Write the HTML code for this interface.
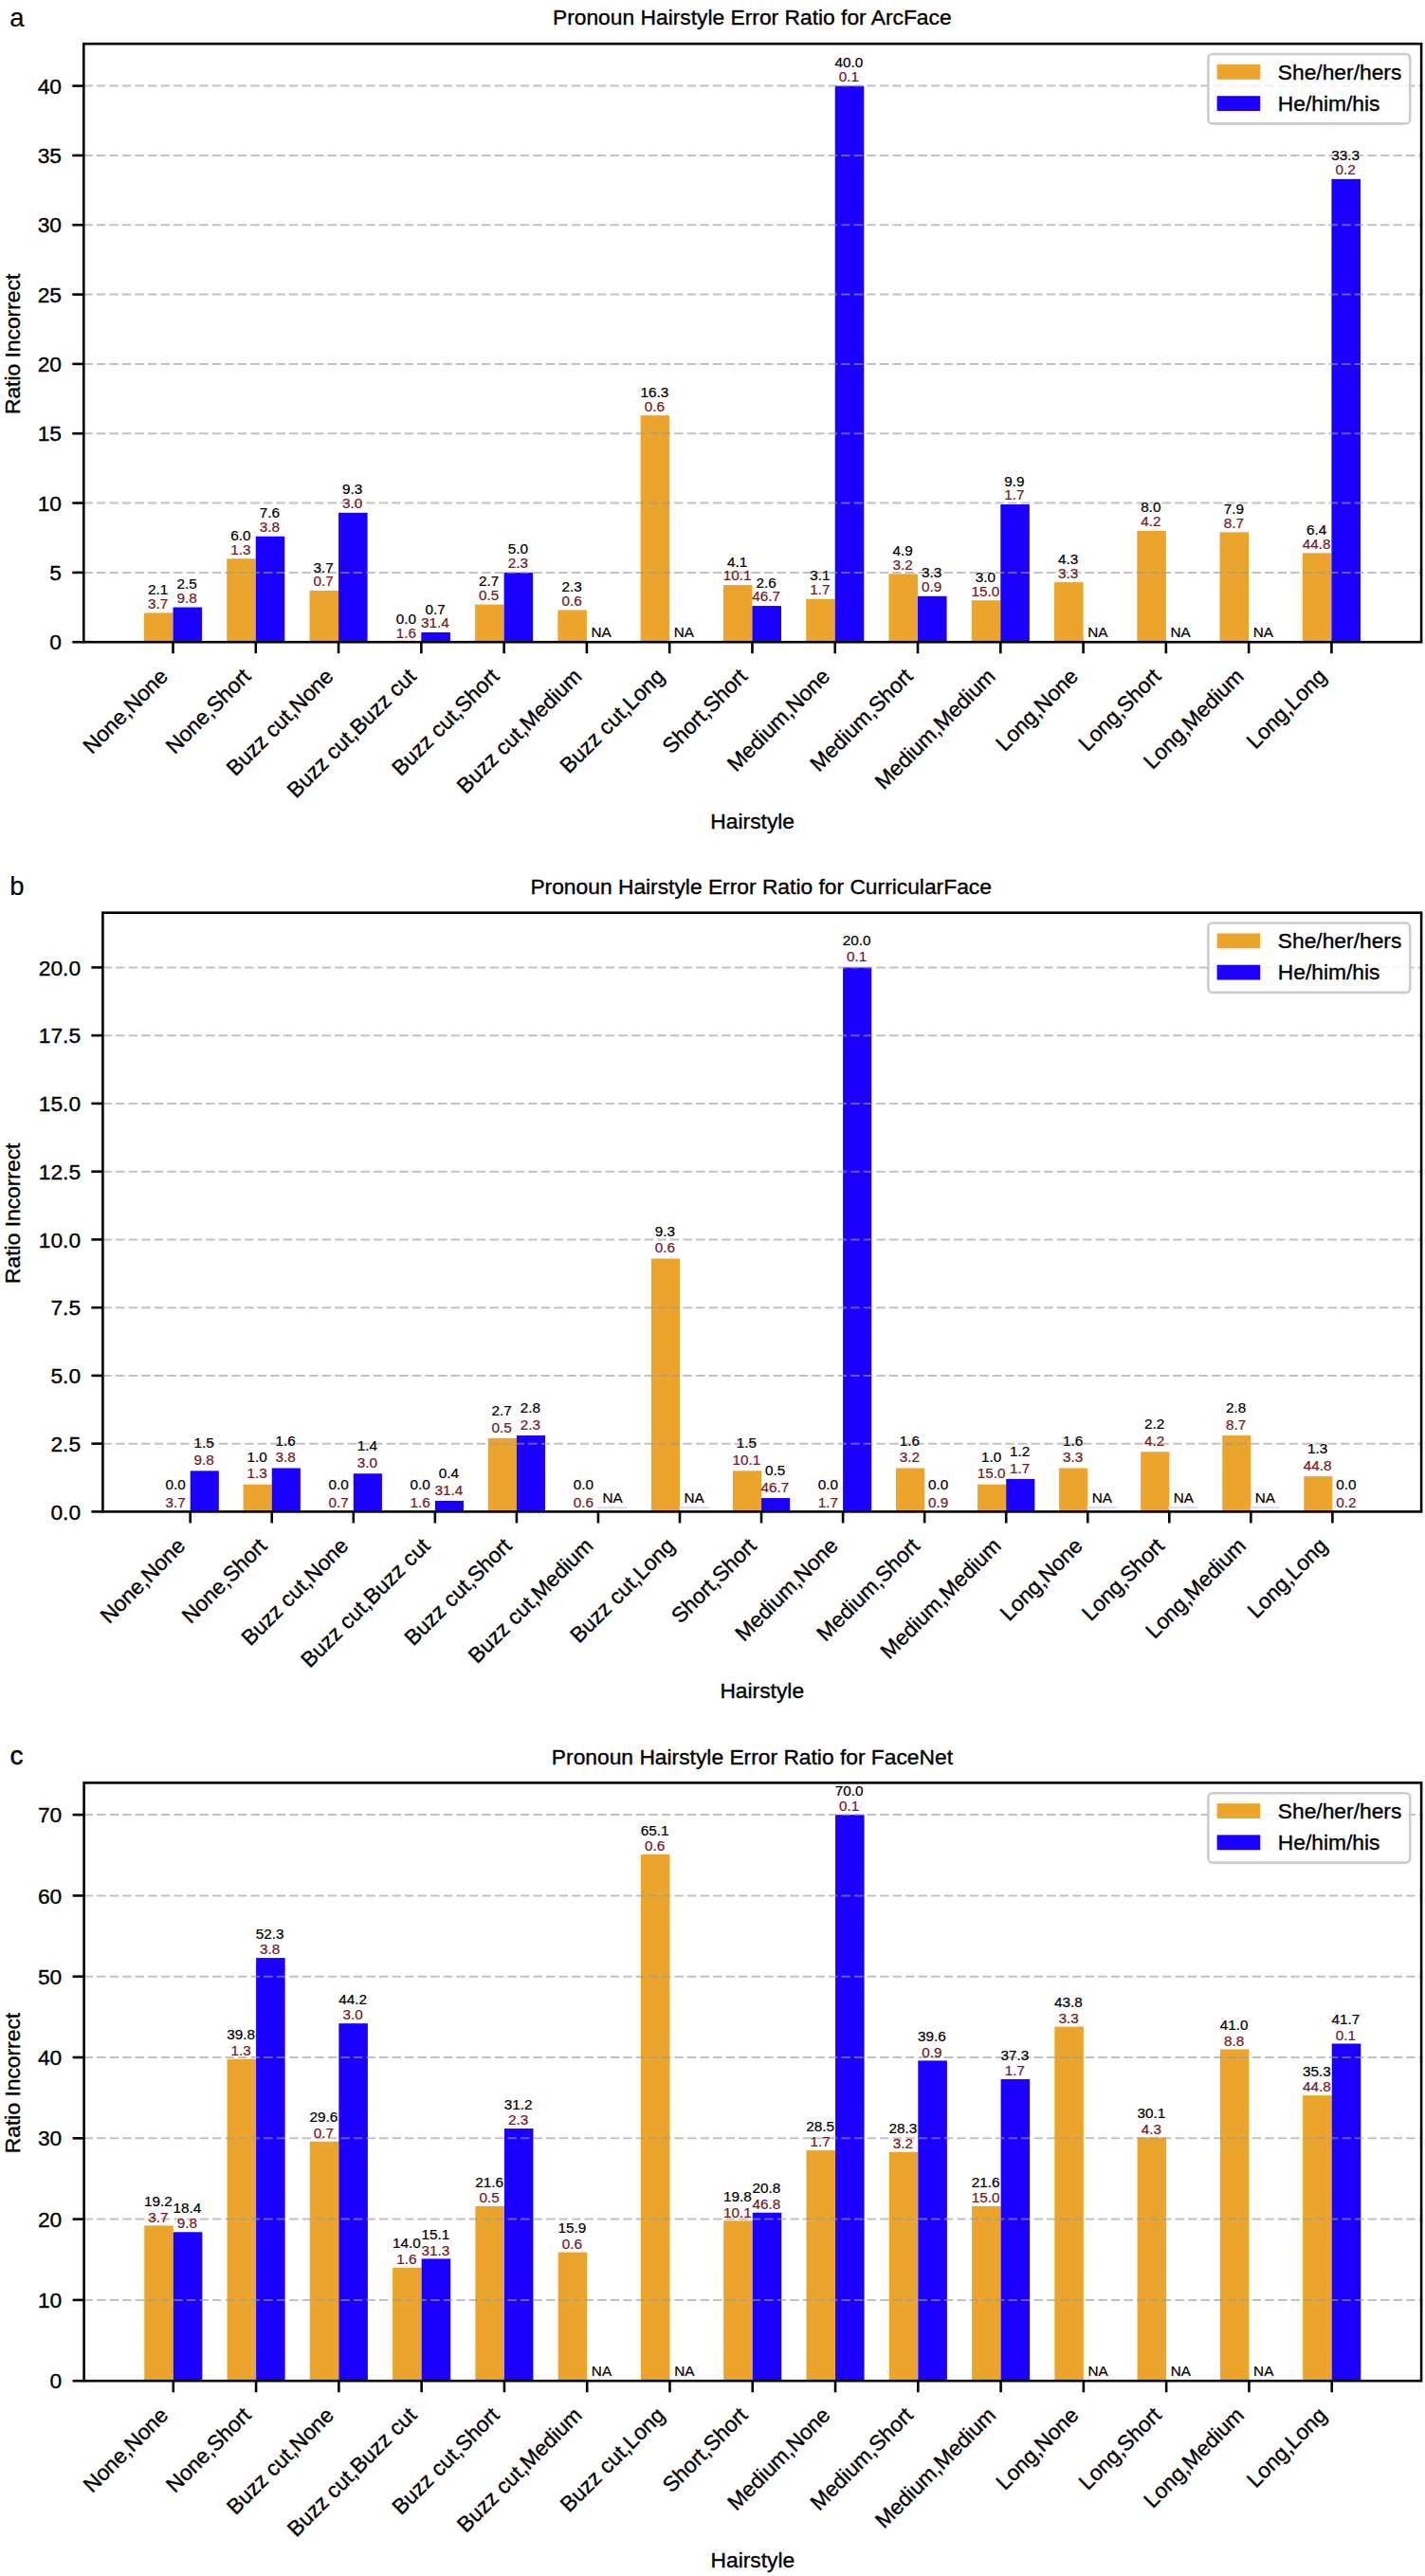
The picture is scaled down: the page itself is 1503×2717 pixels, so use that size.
<!DOCTYPE html>
<html lang="en"><head><meta charset="utf-8"><title>Pronoun Hairstyle Error Ratio</title>
<style>html,body{margin:0;padding:0;background:#fff}svg{display:block}</style></head>
<body>
<svg width="1503" height="2717" viewBox="0 0 1503 2717" font-family="'Liberation Sans', Arial, Helvetica, sans-serif">
<rect width="1503" height="2717" fill="#fff"/>
<g id="chart-a">
<rect x="151.95" y="646.4" width="30.55" height="30.8" fill="#eca52c"/>
<rect x="182.5" y="640.54" width="30.55" height="36.66" fill="#1b00ff"/>
<rect x="239.23" y="589.21" width="30.55" height="87.99" fill="#eca52c"/>
<rect x="269.78" y="565.75" width="30.55" height="111.45" fill="#1b00ff"/>
<rect x="326.51" y="622.94" width="30.55" height="54.26" fill="#eca52c"/>
<rect x="357.06" y="540.82" width="30.55" height="136.38" fill="#1b00ff"/>
<rect x="444.34" y="666.93" width="30.55" height="10.27" fill="#1b00ff"/>
<rect x="501.07" y="637.6" width="30.55" height="39.6" fill="#eca52c"/>
<rect x="531.62" y="603.88" width="30.55" height="73.32" fill="#1b00ff"/>
<rect x="588.35" y="643.47" width="30.55" height="33.73" fill="#eca52c"/>
<rect x="675.63" y="438.16" width="30.55" height="239.04" fill="#eca52c"/>
<rect x="762.91" y="617.07" width="30.55" height="60.13" fill="#eca52c"/>
<rect x="793.46" y="639.07" width="30.55" height="38.13" fill="#1b00ff"/>
<rect x="850.19" y="631.74" width="30.55" height="45.46" fill="#eca52c"/>
<rect x="880.74" y="90.6" width="30.55" height="586.6" fill="#1b00ff"/>
<rect x="937.47" y="605.34" width="30.55" height="71.86" fill="#eca52c"/>
<rect x="968.02" y="628.81" width="30.55" height="48.39" fill="#1b00ff"/>
<rect x="1024.75" y="633.21" width="30.55" height="43.99" fill="#eca52c"/>
<rect x="1055.3" y="532.02" width="30.55" height="145.18" fill="#1b00ff"/>
<rect x="1112.03" y="614.14" width="30.55" height="63.06" fill="#eca52c"/>
<rect x="1199.31" y="559.88" width="30.55" height="117.32" fill="#eca52c"/>
<rect x="1286.59" y="561.35" width="30.55" height="115.85" fill="#eca52c"/>
<rect x="1373.87" y="583.34" width="30.55" height="93.86" fill="#eca52c"/>
<rect x="1404.42" y="188.86" width="30.55" height="488.34" fill="#1b00ff"/>
<line x1="88.3" x2="1499.1" y1="603.88" y2="603.88" stroke="#999" stroke-opacity="0.6" stroke-width="2" stroke-dasharray="9.45 4.09"/>
<line x1="88.3" x2="1499.1" y1="530.55" y2="530.55" stroke="#999" stroke-opacity="0.6" stroke-width="2" stroke-dasharray="9.45 4.09"/>
<line x1="88.3" x2="1499.1" y1="457.23" y2="457.23" stroke="#999" stroke-opacity="0.6" stroke-width="2" stroke-dasharray="9.45 4.09"/>
<line x1="88.3" x2="1499.1" y1="383.9" y2="383.9" stroke="#999" stroke-opacity="0.6" stroke-width="2" stroke-dasharray="9.45 4.09"/>
<line x1="88.3" x2="1499.1" y1="310.58" y2="310.58" stroke="#999" stroke-opacity="0.6" stroke-width="2" stroke-dasharray="9.45 4.09"/>
<line x1="88.3" x2="1499.1" y1="237.25" y2="237.25" stroke="#999" stroke-opacity="0.6" stroke-width="2" stroke-dasharray="9.45 4.09"/>
<line x1="88.3" x2="1499.1" y1="163.93" y2="163.93" stroke="#999" stroke-opacity="0.6" stroke-width="2" stroke-dasharray="9.45 4.09"/>
<line x1="88.3" x2="1499.1" y1="90.6" y2="90.6" stroke="#999" stroke-opacity="0.6" stroke-width="2" stroke-dasharray="9.45 4.09"/>
<g font-size="15.3" text-anchor="middle" stroke-width="0.22">
<text x="166.63" y="627" fill="#000" stroke="#000">2.1</text>
<text x="166.63" y="641.8" fill="#721823" stroke="#721823">3.7</text>
<text x="197.17" y="621.14" fill="#000" stroke="#000">2.5</text>
<text x="197.17" y="635.94" fill="#721823" stroke="#721823">9.8</text>
<text x="253.91" y="569.81" fill="#000" stroke="#000">6.0</text>
<text x="253.91" y="584.61" fill="#721823" stroke="#721823">1.3</text>
<text x="284.45" y="546.35" fill="#000" stroke="#000">7.6</text>
<text x="284.45" y="561.15" fill="#721823" stroke="#721823">3.8</text>
<text x="341.19" y="603.54" fill="#000" stroke="#000">3.7</text>
<text x="341.19" y="618.34" fill="#721823" stroke="#721823">0.7</text>
<text x="371.73" y="521.42" fill="#000" stroke="#000">9.3</text>
<text x="371.73" y="536.22" fill="#721823" stroke="#721823">3.0</text>
<text x="428.47" y="657.6" fill="#000" stroke="#000">0.0</text>
<text x="428.47" y="672.6" fill="#721823" stroke="#721823">1.6</text>
<text x="459.01" y="647.53" fill="#000" stroke="#000">0.7</text>
<text x="459.01" y="662.33" fill="#721823" stroke="#721823">31.4</text>
<text x="515.75" y="618.2" fill="#000" stroke="#000">2.7</text>
<text x="515.75" y="633" fill="#721823" stroke="#721823">0.5</text>
<text x="546.29" y="584.48" fill="#000" stroke="#000">5.0</text>
<text x="546.29" y="599.27" fill="#721823" stroke="#721823">2.3</text>
<text x="603.03" y="624.07" fill="#000" stroke="#000">2.3</text>
<text x="603.03" y="638.87" fill="#721823" stroke="#721823">0.6</text>
<text x="634.17" y="671.7" fill="#000" stroke="#000">NA</text>
<text x="690.31" y="418.76" fill="#000" stroke="#000">16.3</text>
<text x="690.31" y="433.56" fill="#721823" stroke="#721823">0.6</text>
<text x="721.45" y="671.7" fill="#000" stroke="#000">NA</text>
<text x="777.59" y="597.67" fill="#000" stroke="#000">4.1</text>
<text x="777.59" y="612.47" fill="#721823" stroke="#721823">10.1</text>
<text x="808.13" y="619.67" fill="#000" stroke="#000">2.6</text>
<text x="808.13" y="634.47" fill="#721823" stroke="#721823">46.7</text>
<text x="864.87" y="612.34" fill="#000" stroke="#000">3.1</text>
<text x="864.87" y="627.14" fill="#721823" stroke="#721823">1.7</text>
<text x="895.41" y="71.2" fill="#000" stroke="#000">40.0</text>
<text x="895.41" y="86" fill="#721823" stroke="#721823">0.1</text>
<text x="952.15" y="585.94" fill="#000" stroke="#000">4.9</text>
<text x="952.15" y="600.74" fill="#721823" stroke="#721823">3.2</text>
<text x="982.69" y="609.41" fill="#000" stroke="#000">3.3</text>
<text x="982.69" y="624.21" fill="#721823" stroke="#721823">0.9</text>
<text x="1039.43" y="613.81" fill="#000" stroke="#000">3.0</text>
<text x="1039.43" y="628.61" fill="#721823" stroke="#721823">15.0</text>
<text x="1069.97" y="512.62" fill="#000" stroke="#000">9.9</text>
<text x="1069.97" y="527.42" fill="#721823" stroke="#721823">1.7</text>
<text x="1126.71" y="594.74" fill="#000" stroke="#000">4.3</text>
<text x="1126.71" y="609.54" fill="#721823" stroke="#721823">3.3</text>
<text x="1157.85" y="671.7" fill="#000" stroke="#000">NA</text>
<text x="1213.99" y="540.48" fill="#000" stroke="#000">8.0</text>
<text x="1213.99" y="555.28" fill="#721823" stroke="#721823">4.2</text>
<text x="1245.13" y="671.7" fill="#000" stroke="#000">NA</text>
<text x="1301.27" y="541.95" fill="#000" stroke="#000">7.9</text>
<text x="1301.27" y="556.75" fill="#721823" stroke="#721823">8.7</text>
<text x="1332.41" y="671.7" fill="#000" stroke="#000">NA</text>
<text x="1388.55" y="563.94" fill="#000" stroke="#000">6.4</text>
<text x="1388.55" y="578.74" fill="#721823" stroke="#721823">44.8</text>
<text x="1419.09" y="169.46" fill="#000" stroke="#000">33.3</text>
<text x="1419.09" y="184.26" fill="#721823" stroke="#721823">0.2</text>
</g>
<line x1="76.3" x2="88.3" y1="677.2" y2="677.2" stroke="#000" stroke-width="2.6"/>
<line x1="76.3" x2="88.3" y1="603.88" y2="603.88" stroke="#000" stroke-width="2.6"/>
<line x1="76.3" x2="88.3" y1="530.55" y2="530.55" stroke="#000" stroke-width="2.6"/>
<line x1="76.3" x2="88.3" y1="457.23" y2="457.23" stroke="#000" stroke-width="2.6"/>
<line x1="76.3" x2="88.3" y1="383.9" y2="383.9" stroke="#000" stroke-width="2.6"/>
<line x1="76.3" x2="88.3" y1="310.58" y2="310.58" stroke="#000" stroke-width="2.6"/>
<line x1="76.3" x2="88.3" y1="237.25" y2="237.25" stroke="#000" stroke-width="2.6"/>
<line x1="76.3" x2="88.3" y1="163.93" y2="163.93" stroke="#000" stroke-width="2.6"/>
<line x1="76.3" x2="88.3" y1="90.6" y2="90.6" stroke="#000" stroke-width="2.6"/>
<line x1="182.5" x2="182.5" y1="677.2" y2="689.2" stroke="#000" stroke-width="2.6"/>
<line x1="269.78" x2="269.78" y1="677.2" y2="689.2" stroke="#000" stroke-width="2.6"/>
<line x1="357.06" x2="357.06" y1="677.2" y2="689.2" stroke="#000" stroke-width="2.6"/>
<line x1="444.34" x2="444.34" y1="677.2" y2="689.2" stroke="#000" stroke-width="2.6"/>
<line x1="531.62" x2="531.62" y1="677.2" y2="689.2" stroke="#000" stroke-width="2.6"/>
<line x1="618.9" x2="618.9" y1="677.2" y2="689.2" stroke="#000" stroke-width="2.6"/>
<line x1="706.18" x2="706.18" y1="677.2" y2="689.2" stroke="#000" stroke-width="2.6"/>
<line x1="793.46" x2="793.46" y1="677.2" y2="689.2" stroke="#000" stroke-width="2.6"/>
<line x1="880.74" x2="880.74" y1="677.2" y2="689.2" stroke="#000" stroke-width="2.6"/>
<line x1="968.02" x2="968.02" y1="677.2" y2="689.2" stroke="#000" stroke-width="2.6"/>
<line x1="1055.3" x2="1055.3" y1="677.2" y2="689.2" stroke="#000" stroke-width="2.6"/>
<line x1="1142.58" x2="1142.58" y1="677.2" y2="689.2" stroke="#000" stroke-width="2.6"/>
<line x1="1229.86" x2="1229.86" y1="677.2" y2="689.2" stroke="#000" stroke-width="2.6"/>
<line x1="1317.14" x2="1317.14" y1="677.2" y2="689.2" stroke="#000" stroke-width="2.6"/>
<line x1="1404.42" x2="1404.42" y1="677.2" y2="689.2" stroke="#000" stroke-width="2.6"/>
<rect x="88.3" y="46.2" width="1410.8" height="631" fill="none" stroke="#000" stroke-width="2.6"/>
<g font-size="22.8" text-anchor="end" fill="#000" stroke="#000" stroke-width="0.35">
<text x="65" y="685.3">0</text>
<text x="65" y="611.98">5</text>
<text x="65" y="538.65">10</text>
<text x="65" y="465.33">15</text>
<text x="65" y="392">20</text>
<text x="65" y="318.68">25</text>
<text x="65" y="245.35">30</text>
<text x="65" y="172.03">35</text>
<text x="65" y="98.7">40</text>
</g>
<g font-size="22.8" text-anchor="end" fill="#000" stroke="#000" stroke-width="0.35">
<text transform="translate(178.5 714.7) rotate(-45)">None,None</text>
<text transform="translate(265.78 714.7) rotate(-45)">None,Short</text>
<text transform="translate(353.06 714.7) rotate(-45)">Buzz cut,None</text>
<text transform="translate(440.34 714.7) rotate(-45)">Buzz cut,Buzz cut</text>
<text transform="translate(527.62 714.7) rotate(-45)">Buzz cut,Short</text>
<text transform="translate(614.9 714.7) rotate(-45)">Buzz cut,Medium</text>
<text transform="translate(702.18 714.7) rotate(-45)">Buzz cut,Long</text>
<text transform="translate(789.46 714.7) rotate(-45)">Short,Short</text>
<text transform="translate(876.74 714.7) rotate(-45)">Medium,None</text>
<text transform="translate(964.02 714.7) rotate(-45)">Medium,Short</text>
<text transform="translate(1051.3 714.7) rotate(-45)">Medium,Medium</text>
<text transform="translate(1138.58 714.7) rotate(-45)">Long,None</text>
<text transform="translate(1225.86 714.7) rotate(-45)">Long,Short</text>
<text transform="translate(1313.14 714.7) rotate(-45)">Long,Medium</text>
<text transform="translate(1400.42 714.7) rotate(-45)">Long,Long</text>
</g>
<text x="793.7" y="873.8" font-size="22.8" text-anchor="middle" fill="#000" stroke="#000" stroke-width="0.35">Hairstyle</text>
<text transform="translate(21 362.9) rotate(-90)" font-size="22.8" text-anchor="middle" fill="#000" stroke="#000" stroke-width="0.35">Ratio Incorrect</text>
<text x="793.3" y="26.3" font-size="22.8" text-anchor="middle" fill="#000" stroke="#000" stroke-width="0.35">Pronoun Hairstyle Error Ratio for ArcFace</text>
<text x="10.3" y="28.3" font-size="27.5" fill="#000" stroke="#000" stroke-width="0.15">a</text>
<rect x="1274.4" y="57" width="212.8" height="73.4" rx="4.5" fill="#fff" fill-opacity="0.8" stroke="#cccccc" stroke-width="2.6"/>
<rect x="1283.6" y="68" width="45.6" height="15.8" fill="#eca52c"/>
<rect x="1283.6" y="101.2" width="45.6" height="15.8" fill="#1b00ff"/>
<text x="1347.8" y="83.5" font-size="22.8" fill="#000" stroke="#000" stroke-width="0.35">She/her/hers</text>
<text x="1347.8" y="116.8" font-size="22.8" fill="#000" stroke="#000" stroke-width="0.35">He/him/his</text>
</g>
<g id="chart-b">
<rect x="200.7" y="1551.35" width="30.12" height="43.05" fill="#1b00ff"/>
<rect x="256.63" y="1565.7" width="30.12" height="28.7" fill="#eca52c"/>
<rect x="286.75" y="1548.48" width="30.12" height="45.92" fill="#1b00ff"/>
<rect x="372.8" y="1554.22" width="30.12" height="40.18" fill="#1b00ff"/>
<rect x="458.85" y="1582.92" width="30.12" height="11.48" fill="#1b00ff"/>
<rect x="514.78" y="1516.91" width="30.12" height="77.49" fill="#eca52c"/>
<rect x="544.9" y="1514.04" width="30.12" height="80.36" fill="#1b00ff"/>
<rect x="629.95" y="1589.2" width="31.62" height="1.8" fill="#dcdcf6"/>
<rect x="686.88" y="1327.49" width="30.12" height="266.91" fill="#eca52c"/>
<rect x="716" y="1589.2" width="31.62" height="1.8" fill="#dcdcf6"/>
<rect x="772.93" y="1551.35" width="30.12" height="43.05" fill="#eca52c"/>
<rect x="803.05" y="1580.05" width="30.12" height="14.35" fill="#1b00ff"/>
<rect x="889.1" y="1020.4" width="30.12" height="574" fill="#1b00ff"/>
<rect x="945.03" y="1548.48" width="30.12" height="45.92" fill="#eca52c"/>
<rect x="1031.08" y="1565.7" width="30.12" height="28.7" fill="#eca52c"/>
<rect x="1061.2" y="1559.96" width="30.12" height="34.44" fill="#1b00ff"/>
<rect x="1117.13" y="1548.48" width="30.12" height="45.92" fill="#eca52c"/>
<rect x="1146.25" y="1589.2" width="31.62" height="1.8" fill="#dcdcf6"/>
<rect x="1203.18" y="1531.26" width="30.12" height="63.14" fill="#eca52c"/>
<rect x="1232.3" y="1589.2" width="31.62" height="1.8" fill="#dcdcf6"/>
<rect x="1289.23" y="1514.04" width="30.12" height="80.36" fill="#eca52c"/>
<rect x="1318.35" y="1589.2" width="31.62" height="1.8" fill="#dcdcf6"/>
<rect x="1375.28" y="1557.09" width="30.12" height="37.31" fill="#eca52c"/>
<line x1="108.4" x2="1499.1" y1="1522.65" y2="1522.65" stroke="#999" stroke-opacity="0.6" stroke-width="2" stroke-dasharray="9.49 4.11"/>
<line x1="108.4" x2="1499.1" y1="1450.9" y2="1450.9" stroke="#999" stroke-opacity="0.6" stroke-width="2" stroke-dasharray="9.49 4.11"/>
<line x1="108.4" x2="1499.1" y1="1379.15" y2="1379.15" stroke="#999" stroke-opacity="0.6" stroke-width="2" stroke-dasharray="9.49 4.11"/>
<line x1="108.4" x2="1499.1" y1="1307.4" y2="1307.4" stroke="#999" stroke-opacity="0.6" stroke-width="2" stroke-dasharray="9.49 4.11"/>
<line x1="108.4" x2="1499.1" y1="1235.65" y2="1235.65" stroke="#999" stroke-opacity="0.6" stroke-width="2" stroke-dasharray="9.49 4.11"/>
<line x1="108.4" x2="1499.1" y1="1163.9" y2="1163.9" stroke="#999" stroke-opacity="0.6" stroke-width="2" stroke-dasharray="9.49 4.11"/>
<line x1="108.4" x2="1499.1" y1="1092.15" y2="1092.15" stroke="#999" stroke-opacity="0.6" stroke-width="2" stroke-dasharray="9.49 4.11"/>
<line x1="108.4" x2="1499.1" y1="1020.4" y2="1020.4" stroke="#999" stroke-opacity="0.6" stroke-width="2" stroke-dasharray="9.49 4.11"/>
<g font-size="15.3" text-anchor="middle" stroke-width="0.22">
<text x="185.04" y="1571.3" fill="#000" stroke="#000">0.0</text>
<text x="185.04" y="1589.6" fill="#721823" stroke="#721823">3.7</text>
<text x="215.16" y="1527.45" fill="#000" stroke="#000">1.5</text>
<text x="215.16" y="1545.05" fill="#721823" stroke="#721823">9.8</text>
<text x="271.09" y="1541.8" fill="#000" stroke="#000">1.0</text>
<text x="271.09" y="1559.4" fill="#721823" stroke="#721823">1.3</text>
<text x="301.21" y="1524.58" fill="#000" stroke="#000">1.6</text>
<text x="301.21" y="1542.18" fill="#721823" stroke="#721823">3.8</text>
<text x="357.14" y="1571.3" fill="#000" stroke="#000">0.0</text>
<text x="357.14" y="1589.6" fill="#721823" stroke="#721823">0.7</text>
<text x="387.26" y="1530.32" fill="#000" stroke="#000">1.4</text>
<text x="387.26" y="1547.92" fill="#721823" stroke="#721823">3.0</text>
<text x="443.19" y="1571.3" fill="#000" stroke="#000">0.0</text>
<text x="443.19" y="1589.6" fill="#721823" stroke="#721823">1.6</text>
<text x="473.31" y="1559.02" fill="#000" stroke="#000">0.4</text>
<text x="473.31" y="1576.62" fill="#721823" stroke="#721823">31.4</text>
<text x="529.24" y="1493.01" fill="#000" stroke="#000">2.7</text>
<text x="529.24" y="1510.61" fill="#721823" stroke="#721823">0.5</text>
<text x="559.36" y="1490.14" fill="#000" stroke="#000">2.8</text>
<text x="559.36" y="1507.74" fill="#721823" stroke="#721823">2.3</text>
<text x="615.29" y="1571.3" fill="#000" stroke="#000">0.0</text>
<text x="615.29" y="1589.6" fill="#721823" stroke="#721823">0.6</text>
<text x="646.01" y="1585.1" fill="#000" stroke="#000">NA</text>
<text x="701.34" y="1303.59" fill="#000" stroke="#000">9.3</text>
<text x="701.34" y="1321.19" fill="#721823" stroke="#721823">0.6</text>
<text x="732.06" y="1585.1" fill="#000" stroke="#000">NA</text>
<text x="787.39" y="1527.45" fill="#000" stroke="#000">1.5</text>
<text x="787.39" y="1545.05" fill="#721823" stroke="#721823">10.1</text>
<text x="817.51" y="1556.15" fill="#000" stroke="#000">0.5</text>
<text x="817.51" y="1573.75" fill="#721823" stroke="#721823">46.7</text>
<text x="873.44" y="1571.3" fill="#000" stroke="#000">0.0</text>
<text x="873.44" y="1589.6" fill="#721823" stroke="#721823">1.7</text>
<text x="903.56" y="996.5" fill="#000" stroke="#000">20.0</text>
<text x="903.56" y="1014.1" fill="#721823" stroke="#721823">0.1</text>
<text x="959.49" y="1524.58" fill="#000" stroke="#000">1.6</text>
<text x="959.49" y="1542.18" fill="#721823" stroke="#721823">3.2</text>
<text x="989.61" y="1571.3" fill="#000" stroke="#000">0.0</text>
<text x="989.61" y="1589.6" fill="#721823" stroke="#721823">0.9</text>
<text x="1045.54" y="1541.8" fill="#000" stroke="#000">1.0</text>
<text x="1045.54" y="1559.4" fill="#721823" stroke="#721823">15.0</text>
<text x="1075.66" y="1536.06" fill="#000" stroke="#000">1.2</text>
<text x="1075.66" y="1553.66" fill="#721823" stroke="#721823">1.7</text>
<text x="1131.59" y="1524.58" fill="#000" stroke="#000">1.6</text>
<text x="1131.59" y="1542.18" fill="#721823" stroke="#721823">3.3</text>
<text x="1162.31" y="1585.1" fill="#000" stroke="#000">NA</text>
<text x="1217.64" y="1507.36" fill="#000" stroke="#000">2.2</text>
<text x="1217.64" y="1524.96" fill="#721823" stroke="#721823">4.2</text>
<text x="1248.36" y="1585.1" fill="#000" stroke="#000">NA</text>
<text x="1303.69" y="1490.14" fill="#000" stroke="#000">2.8</text>
<text x="1303.69" y="1507.74" fill="#721823" stroke="#721823">8.7</text>
<text x="1334.41" y="1585.1" fill="#000" stroke="#000">NA</text>
<text x="1389.74" y="1533.19" fill="#000" stroke="#000">1.3</text>
<text x="1389.74" y="1550.79" fill="#721823" stroke="#721823">44.8</text>
<text x="1419.86" y="1571.3" fill="#000" stroke="#000">0.0</text>
<text x="1419.86" y="1589.6" fill="#721823" stroke="#721823">0.2</text>
</g>
<line x1="96.4" x2="108.4" y1="1594.4" y2="1594.4" stroke="#000" stroke-width="2.6"/>
<line x1="96.4" x2="108.4" y1="1522.65" y2="1522.65" stroke="#000" stroke-width="2.6"/>
<line x1="96.4" x2="108.4" y1="1450.9" y2="1450.9" stroke="#000" stroke-width="2.6"/>
<line x1="96.4" x2="108.4" y1="1379.15" y2="1379.15" stroke="#000" stroke-width="2.6"/>
<line x1="96.4" x2="108.4" y1="1307.4" y2="1307.4" stroke="#000" stroke-width="2.6"/>
<line x1="96.4" x2="108.4" y1="1235.65" y2="1235.65" stroke="#000" stroke-width="2.6"/>
<line x1="96.4" x2="108.4" y1="1163.9" y2="1163.9" stroke="#000" stroke-width="2.6"/>
<line x1="96.4" x2="108.4" y1="1092.15" y2="1092.15" stroke="#000" stroke-width="2.6"/>
<line x1="96.4" x2="108.4" y1="1020.4" y2="1020.4" stroke="#000" stroke-width="2.6"/>
<line x1="200.7" x2="200.7" y1="1594.4" y2="1606.4" stroke="#000" stroke-width="2.6"/>
<line x1="286.75" x2="286.75" y1="1594.4" y2="1606.4" stroke="#000" stroke-width="2.6"/>
<line x1="372.8" x2="372.8" y1="1594.4" y2="1606.4" stroke="#000" stroke-width="2.6"/>
<line x1="458.85" x2="458.85" y1="1594.4" y2="1606.4" stroke="#000" stroke-width="2.6"/>
<line x1="544.9" x2="544.9" y1="1594.4" y2="1606.4" stroke="#000" stroke-width="2.6"/>
<line x1="630.95" x2="630.95" y1="1594.4" y2="1606.4" stroke="#000" stroke-width="2.6"/>
<line x1="717" x2="717" y1="1594.4" y2="1606.4" stroke="#000" stroke-width="2.6"/>
<line x1="803.05" x2="803.05" y1="1594.4" y2="1606.4" stroke="#000" stroke-width="2.6"/>
<line x1="889.1" x2="889.1" y1="1594.4" y2="1606.4" stroke="#000" stroke-width="2.6"/>
<line x1="975.15" x2="975.15" y1="1594.4" y2="1606.4" stroke="#000" stroke-width="2.6"/>
<line x1="1061.2" x2="1061.2" y1="1594.4" y2="1606.4" stroke="#000" stroke-width="2.6"/>
<line x1="1147.25" x2="1147.25" y1="1594.4" y2="1606.4" stroke="#000" stroke-width="2.6"/>
<line x1="1233.3" x2="1233.3" y1="1594.4" y2="1606.4" stroke="#000" stroke-width="2.6"/>
<line x1="1319.35" x2="1319.35" y1="1594.4" y2="1606.4" stroke="#000" stroke-width="2.6"/>
<line x1="1405.4" x2="1405.4" y1="1594.4" y2="1606.4" stroke="#000" stroke-width="2.6"/>
<rect x="108.4" y="962.7" width="1390.7" height="631.7" fill="none" stroke="#000" stroke-width="2.6"/>
<g font-size="22.8" text-anchor="end" fill="#000" stroke="#000" stroke-width="0.35">
<text x="85.1" y="1602.5">0.0</text>
<text x="85.1" y="1530.75">2.5</text>
<text x="85.1" y="1459">5.0</text>
<text x="85.1" y="1387.25">7.5</text>
<text x="85.1" y="1315.5">10.0</text>
<text x="85.1" y="1243.75">12.5</text>
<text x="85.1" y="1172">15.0</text>
<text x="85.1" y="1100.25">17.5</text>
<text x="85.1" y="1028.5">20.0</text>
</g>
<g font-size="22.8" text-anchor="end" fill="#000" stroke="#000" stroke-width="0.35">
<text transform="translate(196.7 1631.9) rotate(-45)">None,None</text>
<text transform="translate(282.75 1631.9) rotate(-45)">None,Short</text>
<text transform="translate(368.8 1631.9) rotate(-45)">Buzz cut,None</text>
<text transform="translate(454.85 1631.9) rotate(-45)">Buzz cut,Buzz cut</text>
<text transform="translate(540.9 1631.9) rotate(-45)">Buzz cut,Short</text>
<text transform="translate(626.95 1631.9) rotate(-45)">Buzz cut,Medium</text>
<text transform="translate(713 1631.9) rotate(-45)">Buzz cut,Long</text>
<text transform="translate(799.05 1631.9) rotate(-45)">Short,Short</text>
<text transform="translate(885.1 1631.9) rotate(-45)">Medium,None</text>
<text transform="translate(971.15 1631.9) rotate(-45)">Medium,Short</text>
<text transform="translate(1057.2 1631.9) rotate(-45)">Medium,Medium</text>
<text transform="translate(1143.25 1631.9) rotate(-45)">Long,None</text>
<text transform="translate(1229.3 1631.9) rotate(-45)">Long,Short</text>
<text transform="translate(1315.35 1631.9) rotate(-45)">Long,Medium</text>
<text transform="translate(1401.4 1631.9) rotate(-45)">Long,Long</text>
</g>
<text x="803.75" y="1791" font-size="22.8" text-anchor="middle" fill="#000" stroke="#000" stroke-width="0.35">Hairstyle</text>
<text transform="translate(21 1279.75) rotate(-90)" font-size="22.8" text-anchor="middle" fill="#000" stroke="#000" stroke-width="0.35">Ratio Incorrect</text>
<text x="802.65" y="942.8" font-size="22.8" text-anchor="middle" fill="#000" stroke="#000" stroke-width="0.35">Pronoun Hairstyle Error Ratio for CurricularFace</text>
<text x="10.3" y="944.1" font-size="27.5" fill="#000" stroke="#000" stroke-width="0.15">b</text>
<rect x="1274.4" y="973.5" width="212.8" height="73.4" rx="4.5" fill="#fff" fill-opacity="0.8" stroke="#cccccc" stroke-width="2.6"/>
<rect x="1283.6" y="984.5" width="45.6" height="15.8" fill="#eca52c"/>
<rect x="1283.6" y="1017.7" width="45.6" height="15.8" fill="#1b00ff"/>
<text x="1347.8" y="1000" font-size="22.8" fill="#000" stroke="#000" stroke-width="0.35">She/her/hers</text>
<text x="1347.8" y="1033.3" font-size="22.8" fill="#000" stroke="#000" stroke-width="0.35">He/him/his</text>
</g>
<g id="chart-c">
<rect x="152.25" y="2347.42" width="30.55" height="163.78" fill="#eca52c"/>
<rect x="182.8" y="2354.25" width="30.55" height="156.95" fill="#1b00ff"/>
<rect x="239.53" y="2171.71" width="30.55" height="339.49" fill="#eca52c"/>
<rect x="270.08" y="2065.08" width="30.55" height="446.12" fill="#1b00ff"/>
<rect x="326.81" y="2258.71" width="30.55" height="252.49" fill="#eca52c"/>
<rect x="357.36" y="2134.17" width="30.55" height="377.03" fill="#1b00ff"/>
<rect x="414.09" y="2391.78" width="30.55" height="119.42" fill="#eca52c"/>
<rect x="444.64" y="2382.4" width="30.55" height="128.8" fill="#1b00ff"/>
<rect x="501.37" y="2326.95" width="30.55" height="184.25" fill="#eca52c"/>
<rect x="531.92" y="2245.06" width="30.55" height="266.14" fill="#1b00ff"/>
<rect x="588.65" y="2375.57" width="30.55" height="135.63" fill="#eca52c"/>
<rect x="675.93" y="1955.9" width="30.55" height="555.3" fill="#eca52c"/>
<rect x="763.21" y="2342.31" width="30.55" height="168.89" fill="#eca52c"/>
<rect x="793.76" y="2333.78" width="30.55" height="177.42" fill="#1b00ff"/>
<rect x="850.49" y="2268.09" width="30.55" height="243.1" fill="#eca52c"/>
<rect x="881.04" y="1914.1" width="30.55" height="597.1" fill="#1b00ff"/>
<rect x="937.77" y="2269.8" width="30.55" height="241.4" fill="#eca52c"/>
<rect x="968.32" y="2173.41" width="30.55" height="337.79" fill="#1b00ff"/>
<rect x="1025.05" y="2326.95" width="30.55" height="184.25" fill="#eca52c"/>
<rect x="1055.6" y="2193.03" width="30.55" height="318.17" fill="#1b00ff"/>
<rect x="1112.33" y="2137.59" width="30.55" height="373.61" fill="#eca52c"/>
<rect x="1199.61" y="2254.45" width="30.55" height="256.75" fill="#eca52c"/>
<rect x="1286.89" y="2161.47" width="30.55" height="349.73" fill="#eca52c"/>
<rect x="1374.17" y="2210.09" width="30.55" height="301.11" fill="#eca52c"/>
<rect x="1404.72" y="2155.5" width="30.55" height="355.7" fill="#1b00ff"/>
<line x1="88.6" x2="1499.1" y1="2425.9" y2="2425.9" stroke="#999" stroke-opacity="0.6" stroke-width="2" stroke-dasharray="9.45 4.09"/>
<line x1="88.6" x2="1499.1" y1="2340.6" y2="2340.6" stroke="#999" stroke-opacity="0.6" stroke-width="2" stroke-dasharray="9.45 4.09"/>
<line x1="88.6" x2="1499.1" y1="2255.3" y2="2255.3" stroke="#999" stroke-opacity="0.6" stroke-width="2" stroke-dasharray="9.45 4.09"/>
<line x1="88.6" x2="1499.1" y1="2170" y2="2170" stroke="#999" stroke-opacity="0.6" stroke-width="2" stroke-dasharray="9.45 4.09"/>
<line x1="88.6" x2="1499.1" y1="2084.7" y2="2084.7" stroke="#999" stroke-opacity="0.6" stroke-width="2" stroke-dasharray="9.45 4.09"/>
<line x1="88.6" x2="1499.1" y1="1999.4" y2="1999.4" stroke="#999" stroke-opacity="0.6" stroke-width="2" stroke-dasharray="9.45 4.09"/>
<line x1="88.6" x2="1499.1" y1="1914.1" y2="1914.1" stroke="#999" stroke-opacity="0.6" stroke-width="2" stroke-dasharray="9.45 4.09"/>
<g font-size="15.3" text-anchor="middle" stroke-width="0.22">
<text x="166.93" y="2327.12" fill="#000" stroke="#000">19.2</text>
<text x="166.93" y="2343.62" fill="#721823" stroke="#721823">3.7</text>
<text x="197.47" y="2333.95" fill="#000" stroke="#000">18.4</text>
<text x="197.47" y="2350.45" fill="#721823" stroke="#721823">9.8</text>
<text x="254.21" y="2151.41" fill="#000" stroke="#000">39.8</text>
<text x="254.21" y="2167.91" fill="#721823" stroke="#721823">1.3</text>
<text x="284.75" y="2044.78" fill="#000" stroke="#000">52.3</text>
<text x="284.75" y="2061.28" fill="#721823" stroke="#721823">3.8</text>
<text x="341.49" y="2238.41" fill="#000" stroke="#000">29.6</text>
<text x="341.49" y="2254.91" fill="#721823" stroke="#721823">0.7</text>
<text x="372.03" y="2113.87" fill="#000" stroke="#000">44.2</text>
<text x="372.03" y="2130.37" fill="#721823" stroke="#721823">3.0</text>
<text x="428.77" y="2371.48" fill="#000" stroke="#000">14.0</text>
<text x="428.77" y="2387.98" fill="#721823" stroke="#721823">1.6</text>
<text x="459.31" y="2362.1" fill="#000" stroke="#000">15.1</text>
<text x="459.31" y="2378.6" fill="#721823" stroke="#721823">31.3</text>
<text x="516.05" y="2306.65" fill="#000" stroke="#000">21.6</text>
<text x="516.05" y="2323.15" fill="#721823" stroke="#721823">0.5</text>
<text x="546.59" y="2224.76" fill="#000" stroke="#000">31.2</text>
<text x="546.59" y="2241.26" fill="#721823" stroke="#721823">2.3</text>
<text x="603.33" y="2355.27" fill="#000" stroke="#000">15.9</text>
<text x="603.33" y="2371.77" fill="#721823" stroke="#721823">0.6</text>
<text x="634.47" y="2505.6" fill="#000" stroke="#000">NA</text>
<text x="690.61" y="1935.6" fill="#000" stroke="#000">65.1</text>
<text x="690.61" y="1952.1" fill="#721823" stroke="#721823">0.6</text>
<text x="721.75" y="2505.6" fill="#000" stroke="#000">NA</text>
<text x="777.89" y="2322.01" fill="#000" stroke="#000">19.8</text>
<text x="777.89" y="2338.51" fill="#721823" stroke="#721823">10.1</text>
<text x="808.43" y="2313.48" fill="#000" stroke="#000">20.8</text>
<text x="808.43" y="2329.98" fill="#721823" stroke="#721823">46.8</text>
<text x="865.17" y="2247.79" fill="#000" stroke="#000">28.5</text>
<text x="865.17" y="2264.29" fill="#721823" stroke="#721823">1.7</text>
<text x="895.71" y="1893.8" fill="#000" stroke="#000">70.0</text>
<text x="895.71" y="1910.3" fill="#721823" stroke="#721823">0.1</text>
<text x="952.45" y="2249.5" fill="#000" stroke="#000">28.3</text>
<text x="952.45" y="2266" fill="#721823" stroke="#721823">3.2</text>
<text x="982.99" y="2153.11" fill="#000" stroke="#000">39.6</text>
<text x="982.99" y="2169.61" fill="#721823" stroke="#721823">0.9</text>
<text x="1039.73" y="2306.65" fill="#000" stroke="#000">21.6</text>
<text x="1039.73" y="2323.15" fill="#721823" stroke="#721823">15.0</text>
<text x="1070.27" y="2172.73" fill="#000" stroke="#000">37.3</text>
<text x="1070.27" y="2189.23" fill="#721823" stroke="#721823">1.7</text>
<text x="1127.01" y="2117.29" fill="#000" stroke="#000">43.8</text>
<text x="1127.01" y="2133.79" fill="#721823" stroke="#721823">3.3</text>
<text x="1158.15" y="2505.6" fill="#000" stroke="#000">NA</text>
<text x="1214.29" y="2234.15" fill="#000" stroke="#000">30.1</text>
<text x="1214.29" y="2250.65" fill="#721823" stroke="#721823">4.3</text>
<text x="1245.43" y="2505.6" fill="#000" stroke="#000">NA</text>
<text x="1301.57" y="2141.17" fill="#000" stroke="#000">41.0</text>
<text x="1301.57" y="2157.67" fill="#721823" stroke="#721823">8.8</text>
<text x="1332.71" y="2505.6" fill="#000" stroke="#000">NA</text>
<text x="1388.85" y="2189.79" fill="#000" stroke="#000">35.3</text>
<text x="1388.85" y="2206.29" fill="#721823" stroke="#721823">44.8</text>
<text x="1419.39" y="2135.2" fill="#000" stroke="#000">41.7</text>
<text x="1419.39" y="2151.7" fill="#721823" stroke="#721823">0.1</text>
</g>
<line x1="76.6" x2="88.6" y1="2511.2" y2="2511.2" stroke="#000" stroke-width="2.6"/>
<line x1="76.6" x2="88.6" y1="2425.9" y2="2425.9" stroke="#000" stroke-width="2.6"/>
<line x1="76.6" x2="88.6" y1="2340.6" y2="2340.6" stroke="#000" stroke-width="2.6"/>
<line x1="76.6" x2="88.6" y1="2255.3" y2="2255.3" stroke="#000" stroke-width="2.6"/>
<line x1="76.6" x2="88.6" y1="2170" y2="2170" stroke="#000" stroke-width="2.6"/>
<line x1="76.6" x2="88.6" y1="2084.7" y2="2084.7" stroke="#000" stroke-width="2.6"/>
<line x1="76.6" x2="88.6" y1="1999.4" y2="1999.4" stroke="#000" stroke-width="2.6"/>
<line x1="76.6" x2="88.6" y1="1914.1" y2="1914.1" stroke="#000" stroke-width="2.6"/>
<line x1="182.8" x2="182.8" y1="2511.2" y2="2523.2" stroke="#000" stroke-width="2.6"/>
<line x1="270.08" x2="270.08" y1="2511.2" y2="2523.2" stroke="#000" stroke-width="2.6"/>
<line x1="357.36" x2="357.36" y1="2511.2" y2="2523.2" stroke="#000" stroke-width="2.6"/>
<line x1="444.64" x2="444.64" y1="2511.2" y2="2523.2" stroke="#000" stroke-width="2.6"/>
<line x1="531.92" x2="531.92" y1="2511.2" y2="2523.2" stroke="#000" stroke-width="2.6"/>
<line x1="619.2" x2="619.2" y1="2511.2" y2="2523.2" stroke="#000" stroke-width="2.6"/>
<line x1="706.48" x2="706.48" y1="2511.2" y2="2523.2" stroke="#000" stroke-width="2.6"/>
<line x1="793.76" x2="793.76" y1="2511.2" y2="2523.2" stroke="#000" stroke-width="2.6"/>
<line x1="881.04" x2="881.04" y1="2511.2" y2="2523.2" stroke="#000" stroke-width="2.6"/>
<line x1="968.32" x2="968.32" y1="2511.2" y2="2523.2" stroke="#000" stroke-width="2.6"/>
<line x1="1055.6" x2="1055.6" y1="2511.2" y2="2523.2" stroke="#000" stroke-width="2.6"/>
<line x1="1142.88" x2="1142.88" y1="2511.2" y2="2523.2" stroke="#000" stroke-width="2.6"/>
<line x1="1230.16" x2="1230.16" y1="2511.2" y2="2523.2" stroke="#000" stroke-width="2.6"/>
<line x1="1317.44" x2="1317.44" y1="2511.2" y2="2523.2" stroke="#000" stroke-width="2.6"/>
<line x1="1404.72" x2="1404.72" y1="2511.2" y2="2523.2" stroke="#000" stroke-width="2.6"/>
<rect x="88.6" y="1880.4" width="1410.5" height="630.8" fill="none" stroke="#000" stroke-width="2.6"/>
<g font-size="22.8" text-anchor="end" fill="#000" stroke="#000" stroke-width="0.35">
<text x="65.3" y="2519.3">0</text>
<text x="65.3" y="2434">10</text>
<text x="65.3" y="2348.7">20</text>
<text x="65.3" y="2263.4">30</text>
<text x="65.3" y="2178.1">40</text>
<text x="65.3" y="2092.8">50</text>
<text x="65.3" y="2007.5">60</text>
<text x="65.3" y="1922.2">70</text>
</g>
<g font-size="22.8" text-anchor="end" fill="#000" stroke="#000" stroke-width="0.35">
<text transform="translate(178.8 2548.7) rotate(-45)">None,None</text>
<text transform="translate(266.08 2548.7) rotate(-45)">None,Short</text>
<text transform="translate(353.36 2548.7) rotate(-45)">Buzz cut,None</text>
<text transform="translate(440.64 2548.7) rotate(-45)">Buzz cut,Buzz cut</text>
<text transform="translate(527.92 2548.7) rotate(-45)">Buzz cut,Short</text>
<text transform="translate(615.2 2548.7) rotate(-45)">Buzz cut,Medium</text>
<text transform="translate(702.48 2548.7) rotate(-45)">Buzz cut,Long</text>
<text transform="translate(789.76 2548.7) rotate(-45)">Short,Short</text>
<text transform="translate(877.04 2548.7) rotate(-45)">Medium,None</text>
<text transform="translate(964.32 2548.7) rotate(-45)">Medium,Short</text>
<text transform="translate(1051.6 2548.7) rotate(-45)">Medium,Medium</text>
<text transform="translate(1138.88 2548.7) rotate(-45)">Long,None</text>
<text transform="translate(1226.16 2548.7) rotate(-45)">Long,Short</text>
<text transform="translate(1313.44 2548.7) rotate(-45)">Long,Medium</text>
<text transform="translate(1400.72 2548.7) rotate(-45)">Long,Long</text>
</g>
<text x="793.85" y="2707.8" font-size="22.8" text-anchor="middle" fill="#000" stroke="#000" stroke-width="0.35">Hairstyle</text>
<text transform="translate(21 2197) rotate(-90)" font-size="22.8" text-anchor="middle" fill="#000" stroke="#000" stroke-width="0.35">Ratio Incorrect</text>
<text x="793.45" y="1860.5" font-size="22.8" text-anchor="middle" fill="#000" stroke="#000" stroke-width="0.35">Pronoun Hairstyle Error Ratio for FaceNet</text>
<text x="10.4" y="1861.3" font-size="28" fill="#000" stroke="#000" stroke-width="0.45">c</text>
<rect x="1274.4" y="1891.2" width="212.8" height="73.4" rx="4.5" fill="#fff" fill-opacity="0.8" stroke="#cccccc" stroke-width="2.6"/>
<rect x="1283.6" y="1902.2" width="45.6" height="15.8" fill="#eca52c"/>
<rect x="1283.6" y="1935.4" width="45.6" height="15.8" fill="#1b00ff"/>
<text x="1347.8" y="1917.7" font-size="22.8" fill="#000" stroke="#000" stroke-width="0.35">She/her/hers</text>
<text x="1347.8" y="1951" font-size="22.8" fill="#000" stroke="#000" stroke-width="0.35">He/him/his</text>
</g>
</svg>
</body></html>
